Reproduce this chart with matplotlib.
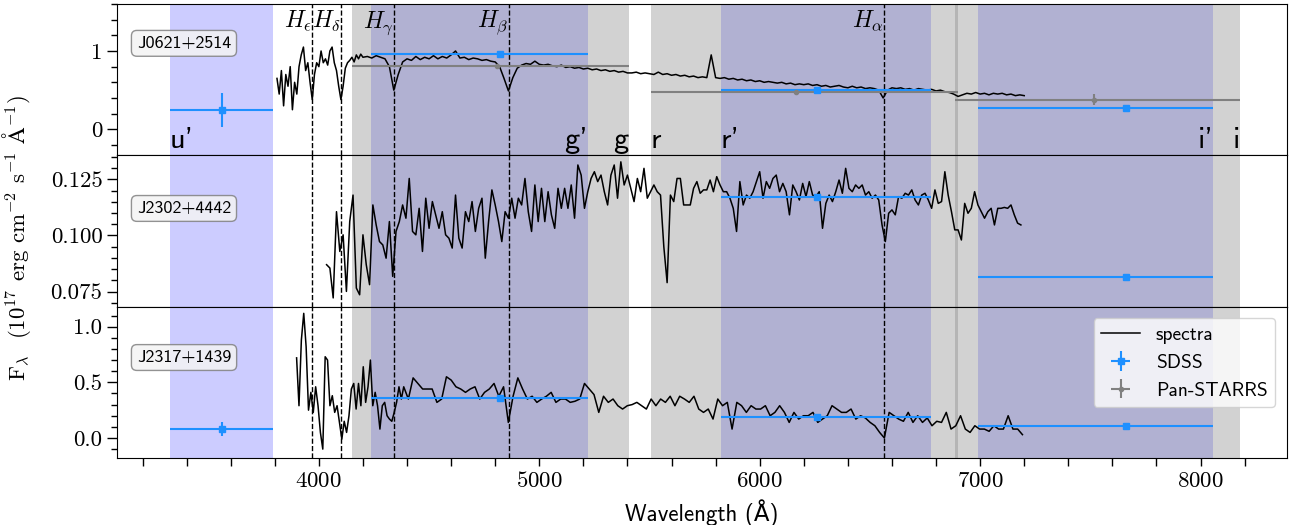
import numpy as np
import matplotlib
matplotlib.use('Agg')
import matplotlib.pyplot as plt
from matplotlib.ticker import MultipleLocator, FormatStrFormatter

plt.rcParams['font.family'] = 'cmr10'
plt.rcParams['mathtext.fontset'] = 'cm'
plt.rcParams['axes.formatter.use_mathtext'] = True
plt.rcParams['axes.unicode_minus'] = False
SANS = ['cmss10', 'DejaVu Sans']

# ---- filter bands (Angstrom): lower edge, effective point, upper edge
sdss_names = ["u'", "g'", "r'", "i'"]
sdss_lo = [3324, 4236, 5823, 6989]
sdss_hi = [3791, 5220, 6779, 8058]
sdss_wl = [3560, 4821, 6259, 7664]

ps1_names = ['g', 'r', 'i']
ps1_lo = [4150, 5506, 6884]
ps1_hi = [5406, 6898, 8180]
ps1_wl = [4807, 6163, 7515]

lines_name = [r'$H_\epsilon$', r'$H_\delta$', r'$H_\gamma$', r'$H_\beta$', r'$H_\alpha$']
lines_wl = [3970, 4102, 4341, 4861, 6563]

# ---- photometry per object (flux in 1e-17 erg/cm2/s/A)
sdss_flux = {
    'J0621+2514': [0.246, 0.958, 0.498, 0.272],
    'J2302+4442': [np.nan, np.nan, 0.117, 0.0817],
    'J2317+1439': [0.08, 0.36, 0.19, 0.107],
}
sdss_err = {
    'J0621+2514': [0.22, 0.03, 0.01, 0.01],
    'J2302+4442': [0.0, 0.0, 0.0005, 0.0003],
    'J2317+1439': [0.06, 0.02, 0.01, 0.01],
}
ps1_flux = {'J0621+2514': [0.812, 0.48, 0.378]}
ps1_err = {'J0621+2514': [0.01, 0.01, 0.07]}

# ---- spectra
j0621_blue = [0.65, 0.45, 0.75, 0.30, 0.70, 0.55, 0.80, 0.25, 0.60, 0.45,
              0.80, 0.95, 1.05, 0.75, 0.85, 0.60, 0.38, 0.70, 0.85, 0.80,
              1.00, 0.85, 0.90, 0.82, 1.00, 1.05, 0.85, 0.75, 0.55, 0.38,
              0.55, 0.78, 0.85, 0.88, 0.92, 0.86, 0.95, 0.90, 0.96, 0.92]
j0621_red = [0.93, 0.91, 0.94, 0.92, 0.90, 0.80, 0.50, 0.70, 0.86, 0.90,
             0.88, 0.93, 0.89, 0.92, 0.90, 0.94, 0.90, 0.93, 0.91, 0.95,
             1.00, 0.91, 0.92, 0.89, 0.91, 0.90, 0.88, 0.89, 0.87, 0.86,
             0.80, 0.65, 0.49, 0.66, 0.78, 0.82, 0.84, 0.83, 0.87, 0.83,
             0.82, 0.83, 0.81, 0.80, 0.82, 0.79, 0.80, 0.78, 0.79, 0.77,
             0.78, 0.76, 0.77, 0.75, 0.76, 0.74, 0.75, 0.73, 0.74, 0.72,
             0.72, 0.73, 0.71, 0.72, 0.71, 0.70, 0.73, 0.70, 0.71, 0.69,
             0.70, 0.68, 0.69, 0.67, 0.68, 0.66, 0.67, 0.66, 0.95, 0.66,
             0.65, 0.66, 0.64, 0.65, 0.63, 0.64, 0.62, 0.63, 0.61, 0.62,
             0.60, 0.61, 0.60, 0.59, 0.60, 0.58, 0.59, 0.57, 0.58, 0.57,
             0.58, 0.56, 0.57, 0.55, 0.56, 0.54, 0.55, 0.56, 0.54, 0.53,
             0.55, 0.53, 0.54, 0.52, 0.53, 0.52, 0.50, 0.40, 0.50, 0.53,
             0.52, 0.53, 0.51, 0.52, 0.50, 0.52, 0.51, 0.50, 0.51, 0.49,
             0.50, 0.48, 0.47, 0.45, 0.42, 0.44, 0.46, 0.45, 0.47, 0.45,
             0.46, 0.44, 0.46, 0.45, 0.46, 0.44, 0.45, 0.43, 0.44, 0.43]

j2302_flux = [0.0870, 0.0855, 0.0722, 0.1106, 0.0929, 0.1003, 0.0751, 0.1062, 0.1180, 0.0766,
              0.0736, 0.1003, 0.0870, 0.0781, 0.1136, 0.1047, 0.0973, 0.0958, 0.0899, 0.1062,
              0.0818, 0.1018, 0.1062, 0.1136, 0.1077, 0.1254, 0.1018, 0.1003, 0.1121, 0.0929,
              0.1166, 0.1032, 0.1151, 0.1092, 0.1032, 0.1106, 0.1003, 0.0988, 0.0944, 0.1180,
              0.0988, 0.0944, 0.1106, 0.1062, 0.1151, 0.1018, 0.1121, 0.1166, 0.0899, 0.1062,
              0.1203, 0.1136, 0.1062, 0.0973, 0.1106, 0.1077, 0.1166, 0.1077, 0.1166, 0.1136,
              0.1254, 0.1106, 0.1018, 0.1225, 0.1062, 0.1210, 0.1062, 0.1195, 0.1092, 0.1032,
              0.1210, 0.1121, 0.1210, 0.1121, 0.1225, 0.1077, 0.1314, 0.1269, 0.1121, 0.1195,
              0.1254, 0.1284, 0.1240, 0.1269, 0.1195, 0.1136, 0.1269, 0.1314, 0.1166, 0.1328,
              0.1225, 0.1269, 0.1210, 0.1151, 0.1254, 0.1195, 0.1299, 0.1166, 0.1195, 0.1225,
              0.1195, 0.1180, 0.0950, 0.0790, 0.1180, 0.1151, 0.1254,
              0.1254, 0.1136, 0.1136, 0.1136, 0.1210, 0.1240, 0.1188, 0.1203, 0.1203, 0.1247,
              0.1195, 0.1262, 0.1225, 0.1195, 0.1195, 0.1166, 0.1121, 0.1018, 0.1240, 0.1136,
              0.1180, 0.1166, 0.1195, 0.1240, 0.1284, 0.1166, 0.1240, 0.1210, 0.1254, 0.1269,
              0.1195, 0.1232, 0.1195, 0.1092, 0.1225, 0.1195, 0.1158, 0.1232, 0.1173, 0.1240,
              0.1180, 0.1173, 0.1195, 0.1032, 0.1143, 0.1180, 0.1151, 0.1195, 0.1247, 0.1188,
              0.1299, 0.1210, 0.1195, 0.1225, 0.1210, 0.1225, 0.1180, 0.1195, 0.1166, 0.1180,
              0.1158, 0.1047, 0.0973, 0.1099, 0.1114, 0.1092, 0.1173, 0.1166, 0.1188, 0.1180,
              0.1203, 0.1158, 0.1136, 0.1180, 0.1188, 0.1158, 0.1121, 0.1203, 0.1143, 0.1151,
              0.1284, 0.1180, 0.1106, 0.1025, 0.1025, 0.0980, 0.1143, 0.1099, 0.1121, 0.1195,
              0.1136, 0.1106, 0.1077, 0.1106, 0.1121, 0.1047, 0.1121, 0.1121, 0.1125, 0.1121,
              0.1136, 0.1092, 0.1055, 0.1047]

j2317_blue = [0.72, 0.29, 0.88, 1.12, 0.82, 0.25, 0.41, 0.23, 0.46, 0.29,
              0.05, -0.10, 0.73, 0.70, 0.29, 0.38, 0.23, 0.29, 0.14, -0.01,
              0.15, 0.05, 0.20, 0.44, 0.49, 0.26, 0.49, 0.29, 0.64, 0.32,
              0.46, 0.70, 0.29, 0.41, 0.29, 0.08, 0.29, 0.32, 0.20, 0.17,
              0.15, 0.23, 0.32, 0.46, 0.35, 0.46]
j2317_red = [0.35, 0.54, 0.49, 0.44, 0.44, 0.44, 0.32, 0.35, 0.55, 0.52,
             0.46, 0.44, 0.41, 0.44, 0.46, 0.35, 0.41, 0.44, 0.49, 0.375,
             0.46, 0.14, 0.375, 0.54, 0.44, 0.35, 0.375, 0.32, 0.35, 0.375,
             0.41, 0.32, 0.35, 0.35, 0.32, 0.33, 0.35, 0.49, 0.44, 0.39,
             0.23, 0.375, 0.32, 0.35, 0.29, 0.26, 0.29, 0.30, 0.32, 0.29,
             0.26, 0.35, 0.29, 0.35, 0.32, 0.375, 0.29, 0.375, 0.35, 0.32,
             0.375, 0.26, 0.23, 0.26, 0.17, 0.35, 0.29, 0.32, 0.08, 0.32,
             0.29, 0.23, 0.29, 0.26, 0.26, 0.29, 0.20, 0.23, 0.29, 0.23,
             0.14, 0.23, 0.17, 0.20, 0.20, 0.23, 0.14, 0.17, 0.20, 0.29,
             0.26, 0.23, 0.23, 0.26, 0.17, 0.20, 0.18, 0.14, 0.11, 0.05,
             0.00, 0.23, 0.20, 0.17, 0.15, 0.23, 0.14, 0.20, 0.14, 0.18,
             0.11, 0.15, 0.14, 0.23, 0.08, 0.11, 0.20, 0.08, 0.05, 0.11,
             0.08, 0.08, 0.06, 0.11, 0.08, 0.08, 0.20, 0.08, 0.08, 0.03]

spec_wl = {
    'J0621+2514': np.concatenate([np.linspace(3810, 4200, len(j0621_blue)),
                                  np.linspace(4220, 7200, len(j0621_red))]),
    'J2302+4442': np.linspace(4035, 7185, len(j2302_flux)),
    'J2317+1439': np.concatenate([np.linspace(3899, 4385, len(j2317_blue)),
                                  np.linspace(4406, 7192, len(j2317_red))]),
}
spec_flux = {
    'J0621+2514': j0621_blue + j0621_red,
    'J2302+4442': j2302_flux,
    'J2317+1439': j2317_blue + j2317_red,
}
objects = ['J0621+2514', 'J2302+4442', 'J2317+1439']

fig, axes = plt.subplots(3, 1, sharex=True, figsize=(13.01, 5.25), dpi=100)
fig.subplots_adjust(left=0.0899, right=0.9892, top=0.9924, bottom=0.1276, hspace=0)

ylims = [(-0.332, 1.60), (0.0683, 0.1357), (-0.18, 1.18)]
label_y = [0.74, 0.649, 0.664]

for ax, obj, yl, ly in zip(axes, objects, ylims, label_y):
    for lo, hi in zip(sdss_lo, sdss_hi):
        ax.axvspan(lo, hi, color='blue', alpha=0.2, lw=0)
    for lo, hi in zip(ps1_lo, ps1_hi):
        ax.axvspan(lo, hi, color='gray', alpha=0.35, lw=0)
    for wl in lines_wl:
        ax.axvline(wl, color='k', ls='--', lw=1)
    h_spec, = ax.plot(spec_wl[obj], spec_flux[obj], color='k', lw=1.1, label='spectra')
    f = np.array(sdss_flux[obj])
    xerr = [np.array(sdss_wl) - np.array(sdss_lo), np.array(sdss_hi) - np.array(sdss_wl)]
    h_sdss = ax.errorbar(sdss_wl, f, xerr=xerr, yerr=sdss_err[obj], fmt='s', color='dodgerblue',
                         ms=5, elinewidth=1.5, label='SDSS', zorder=4)
    if obj in ps1_flux:
        pxerr = [np.array(ps1_wl) - np.array(ps1_lo), np.array(ps1_hi) - np.array(ps1_wl)]
        h_ps1 = ax.errorbar(ps1_wl, ps1_flux[obj], xerr=pxerr, yerr=ps1_err[obj], fmt='.',
                            color='gray', ms=6, elinewidth=1.5, label='Pan-STARRS', zorder=4)
        handles = [h_spec, h_sdss, h_ps1]
    ax.set_ylim(*yl)
    ax.text(0.017, ly, obj, transform=ax.transAxes, family=SANS, fontsize=13, va='center',
            ha='left', zorder=6,
            bbox=dict(boxstyle='round,pad=0.3', fc='#f4f4f4', ec='gray', alpha=0.85))
    ax.tick_params(which='both', direction='out', labelsize=16.5, width=1)
    ax.tick_params(axis='y', which='major', length=7)
    ax.tick_params(axis='y', which='minor', length=4)
    ax.tick_params(axis='x', which='both', length=6)

axes[0].set_xlim(3084, 8392)
axes[0].xaxis.set_major_locator(MultipleLocator(1000))
axes[0].xaxis.set_minor_locator(MultipleLocator(200))
for ax in axes[:2]:
    ax.tick_params(axis='x', which='both', bottom=False)

axes[0].yaxis.set_major_locator(MultipleLocator(1))
axes[0].yaxis.set_minor_locator(MultipleLocator(0.2))
axes[0].yaxis.set_major_formatter(FormatStrFormatter('%d'))
axes[1].yaxis.set_major_locator(MultipleLocator(0.025))
axes[1].yaxis.set_minor_locator(MultipleLocator(0.005))
axes[1].yaxis.set_major_formatter(FormatStrFormatter('%.3f'))
axes[2].yaxis.set_major_locator(MultipleLocator(0.5))
axes[2].yaxis.set_minor_locator(MultipleLocator(0.1))
axes[2].yaxis.set_major_formatter(FormatStrFormatter('%.1f'))

# band names and line names on the top panel
top = axes[0]
band_text = [("u'", sdss_lo[0], 'left'), ("g'", sdss_hi[1], 'right'), ('g', ps1_hi[0], 'right'),
             ('r', ps1_lo[1], 'left'), ("r'", sdss_lo[2], 'left'), ("i'", sdss_hi[3], 'right'),
             ('i', ps1_hi[2], 'right')]
for name, x, ha in band_text:
    top.text(x, -0.24, name, family=SANS, fontsize=22, ha=ha, va='baseline')
for name, wl in zip(lines_name, lines_wl):
    top.text(wl, 1.30, name, fontsize=17, ha='right', va='baseline')

axes[1].set_ylabel(r'F$_\lambda$  (10$^{17}$ erg cm$^{-2}$ s$^{-1}$ $\mathrm{\AA}^{-1}$)', fontsize=16.5)
axes[1].yaxis.set_label_coords(-0.072, 0.45)
axes[2].set_xlabel('Wavelength (Å)', family=SANS, fontsize=16.5, labelpad=6)

axes[2].legend(handles=handles, loc='upper right', prop={'family': SANS, 'size': 14},
               framealpha=0.8, borderaxespad=0.6)

fig.savefig('out.png', dpi=100)
